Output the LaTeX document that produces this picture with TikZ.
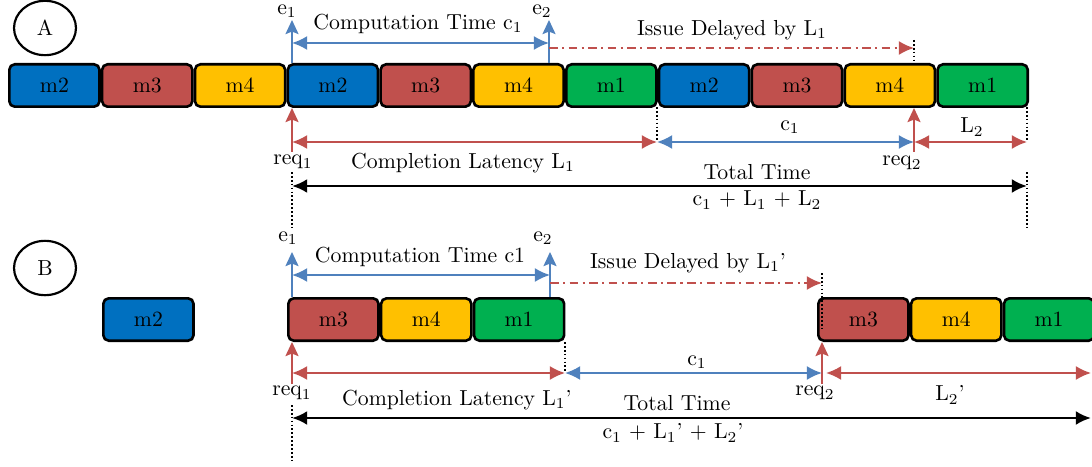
\documentclass[tikz,border=0pt]{standalone}
\usepackage{amsmath}
\usepackage{xcolor}
\usepackage{tikz}
\usetikzlibrary{arrows.meta,positioning,shapes.geometric}

\definecolor{mblue}{HTML}{0070C0}
\definecolor{mred}{HTML}{C0504D}
\definecolor{myellow}{HTML}{FFC000}
\definecolor{mgreen}{HTML}{00B050}
\definecolor{lblue}{HTML}{4F81BD}
\definecolor{lred}{HTML}{C0504D}

\begin{document}
\begin{tikzpicture}[x=0.46pt, y=-0.46pt, node distance=0pt]
\tikzstyle{op} = [draw, line width=1.2pt, rounded corners=2.5pt, minimum width=41.5pt, minimum height=19.5pt, inner sep=0pt]
\tikzstyle{m1} = [op, fill=mgreen]
\tikzstyle{m2} = [op, fill=mblue]
\tikzstyle{m3} = [op, fill=mred]
\tikzstyle{m4} = [op, fill=myellow]
\tikzstyle{tag} = [ellipse, draw, line width=1pt, minimum width=28.5pt, minimum height=25pt]
\tikzstyle{evt} = [inner sep=1pt]
\tikzstyle{up} = [-{Stealth[length=6.5pt,width=6pt,inset=1.2pt]}, line width=0.9pt]
\tikzstyle{both} = [{Latex[length=7pt,width=6.5pt]}-{Latex[length=7pt,width=6.5pt]}, line width=0.9pt]
\tikzstyle{delay} = [-{Latex[length=7pt,width=6.5pt]}, dash pattern=on 4pt off 2pt on 1pt off 2pt, line width=0.9pt]
\tikzstyle{guide} = [densely dotted, line width=0.8pt]
\tikzstyle{total} = [{Latex[length=7pt,width=6.5pt]}-{Latex[length=7pt,width=6.5pt]}, line width=1.3pt]
\useasboundingbox (0,0) rectangle (1092,467);

% (A) pipelined
\node[tag] (A) at (45,28) {A};
\node[m2, anchor=west] (a1) at (8,85.5) {m2};
\node[m3, right=of a1] (a2) {m3};
\node[m4, right=of a2] (a3) {m4};
\node[m2, right=of a3] (a4) {m2};
\node[m3, right=of a4] (a5) {m3};
\node[m4, right=of a5] (a6) {m4};
\node[m1, right=of a6] (a7) {m1};
\node[m2, right=of a7] (a8) {m2};
\node[m3, right=of a8] (a9) {m3};
\node[m4, right=of a9] (a10) {m4};
\node[m1, right=of a10] (a11) {m1};

\foreach \n/\x/\y in {ea1/292/20, ea2/549/20, ca1/292/43, ca2/549/43, da1/549/48, da2/914/48,
  ta1/914/40, ta2/914/64, ra1/292/152, ra2/914/152, la1/292/142, la2/657/142, la3/914/142,
  la4/1027/142, ga1/657/107, ga2/1027/107, sa1/292/186, sa2/1027/186,
  va1/292/172, va2/292/228, va3/1027/172, va4/1027/228}
  \coordinate (\n) at (\x,\y);

\node[evt] (lea1) at (287,11) {e$_1$};
\node[evt] (lea2) at (542,11) {e$_2$};
\node (cta) at (418,24) {Computation Time c$_1$};
\node (ida) at (732,30) {Issue Delayed by L$_1$};
\node (rqa1) at (293,162) {req$_1$};
\node (cla) at (463,163) {Completion Latency L$_1$};
\node (c1a) at (790,127) {c$_1$};
\node (rqa2) at (902,163) {req$_2$};
\node (l2a) at (972,127) {L$_2$};
\node (tta) at (757,172) {Total Time};
\node (sma) at (757,200) {c$_1$ + L$_1$ + L$_2$};

\draw[up, lblue] (a4.north -| ea1) -- (ea1);
\draw[up, lblue] (a6.north -| ea2) -- (ea2);
\draw[both, lblue] (ca1) -- (ca2);
\draw[delay, lred] (da1) -- (da2);
\draw[guide] (ta1) -- (ta2);
\draw[up, lred] (ra1) -- (a4.south -| ra1);
\draw[up, lred] (ra2) -- (a10.south -| ra2);
\draw[both, lred] (la1) -- (la2);
\draw[both, lblue] (la2) -- (la3);
\draw[both, lred] (la3) -- (la4);
\draw[guide] (ga1) -- (la2);
\draw[guide] (ga2) -- (la4);
\draw[total] (sa1) -- (sa2);
\draw[guide] (va1) -- (va2);
\draw[guide] (va3) -- (va4);

% (B) delayed issue
\node[tag] (B) at (45,268) {B};
\node[m2, anchor=west] (b1) at (102,319.5) {m2};
\node[m3, anchor=west] (b2) at (287,319.5) {m3};
\node[m4, right=of b2] (b3) {m4};
\node[m1, right=of b3] (b4) {m1};
\node[m3, anchor=west] (b5) at (817,319.5) {m3};
\node[m4, right=of b5] (b6) {m4};
\node[m1, right=of b6] (b7) {m1};

\foreach \n/\x/\y in {eb1/292/252, eb2/550/252, cb1/292/275, cb2/550/275, db1/550/283, db2/822/283,
  tb1/822/273, tb2/822/328, rb1/292/384, rb2/822/384, lb1/292/373, lb2/565/373, lb3/822/373,
  lb4/826/373, lb5/1091/373, gb1/565/342, sb1/292/418, sb2/1091/418, vb1/292/405, vb2/292/460}
  \coordinate (\n) at (\x,\y);

\node[evt] (leb1) at (288,238) {e$_1$};
\node[evt] (leb2) at (543,238) {e$_2$};
\node (ctb) at (420,257) {Computation Time c1};
\node (idb) at (688,263) {Issue Delayed by L$_1$'};
\node (rqb1) at (292,393) {req$_1$};
\node (clb) at (457,400) {Completion Latency L$_1$'};
\node (c1b) at (697,362) {c$_1$};
\node (rqb2) at (815,393) {req$_2$};
\node (l2b) at (950,395) {L$_2$'};
\node (ttb) at (677,403) {Total Time};
\node (smb) at (673,433) {c$_1$ + L$_1$' + L$_2$'};

\draw[up, lblue] (b2.north -| eb1) -- (eb1);
\draw[up, lblue] (b4.north -| eb2) -- (eb2);
\draw[both, lblue] (cb1) -- (cb2);
\draw[delay, lred] (db1) -- (db2);
\draw[guide] (tb1) -- (tb2);
\draw[up, lred] (rb1) -- (b2.south -| rb1);
\draw[up, lred] (rb2) -- (b5.south -| rb2);
\draw[both, lred] (lb1) -- (lb2);
\draw[both, lblue] (lb2) -- (lb3);
\draw[both, lred] (lb4) -- (lb5);
\draw[guide] (gb1) -- (lb2);
\draw[total] (sb1) -- (sb2);
\draw[guide] (vb1) -- (vb2);
\end{tikzpicture}
\end{document}
